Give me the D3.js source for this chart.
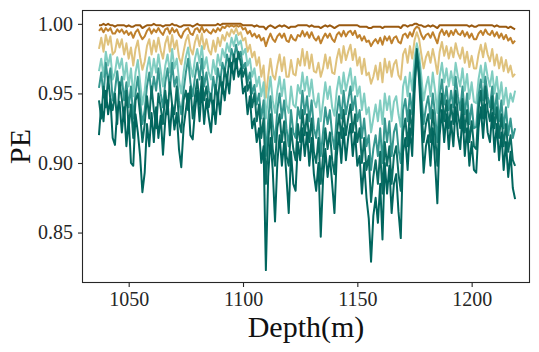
<!DOCTYPE html>
<html><head><meta charset="utf-8">
<script src="https://cdn.jsdelivr.net/npm/d3@7/dist/d3.min.js"></script>
<style>html,body{margin:0;padding:0;background:#fff;}svg{display:block;}</style>
</head><body>
<svg id="chart" width="539" height="352"></svg>
<script>
const depth = [1037,1038,1039,1040,1041,1042,1043,1044,1045,1046,1047,1048,1049,1050,1051,1052,1053,1054,1055,1056,1057,1058,1059,1060,1061,1062,1063,1064,1065,1066,1067,1068,1069,1070,1071,1072,1073,1074,1075,1076,1077,1078,1079,1080,1081,1082,1083,1084,1085,1086,1087,1088,1089,1090,1091,1092,1093,1094,1095,1096,1097,1098,1099,1100,1101,1102,1103,1104,1105,1106,1107,1108,1109,1110,1111,1112,1113,1114,1115,1116,1117,1118,1119,1120,1121,1122,1123,1124,1125,1126,1127,1128,1129,1130,1131,1132,1133,1134,1135,1136,1137,1138,1139,1140,1141,1142,1143,1144,1145,1146,1147,1148,1149,1150,1151,1152,1153,1154,1155,1156,1157,1158,1159,1160,1161,1162,1163,1164,1165,1166,1167,1168,1169,1170,1171,1172,1173,1174,1175,1176,1177,1178,1179,1180,1181,1182,1183,1184,1185,1186,1187,1188,1189,1190,1191,1192,1193,1194,1195,1196,1197,1198,1199,1200,1201,1202,1203,1204,1205,1206,1207,1208,1209,1210,1211,1212,1213,1214,1215,1216,1217,1218,1219];

const pe1 = [0.999,0.999,1.000,0.999,1.000,0.999,0.999,0.998,0.999,0.999,
0.999,0.999,0.998,0.999,0.998,0.998,0.999,0.999,0.999,0.997,
0.998,0.999,0.999,0.999,1.000,0.999,0.999,0.999,0.998,0.999,
0.999,0.999,1.000,0.999,0.999,0.998,0.998,0.999,0.999,0.999,
0.999,0.998,0.999,1.000,0.999,0.999,0.999,0.999,0.999,0.999,
0.999,0.999,1.000,0.999,1.000,1.000,1.000,1.000,1.000,1.000,
1.000,1.000,1.000,0.999,0.999,0.999,0.999,0.999,0.998,0.999,
0.998,0.998,0.998,0.996,0.998,0.999,0.998,0.997,0.998,0.999,
0.998,0.999,0.998,0.997,0.998,0.998,0.998,0.999,0.999,0.999,
0.999,0.999,0.998,0.999,0.998,0.998,0.998,0.997,0.998,0.999,
0.998,0.999,0.998,0.997,0.998,0.999,0.999,0.999,0.999,0.999,
0.999,0.999,0.999,0.999,0.998,0.998,0.998,0.998,0.997,0.997,
0.998,0.998,0.998,0.998,0.997,0.998,0.998,0.998,0.998,0.998,
0.998,0.998,0.997,0.999,0.999,0.998,0.999,0.999,1.000,1.000,
0.999,0.999,0.998,0.998,0.999,0.998,0.999,0.998,0.997,0.999,
0.999,0.999,0.999,0.999,0.999,0.999,0.999,0.999,0.999,0.999,
0.999,0.999,0.998,0.999,0.998,0.998,0.999,0.999,0.999,0.999,
0.999,0.999,0.999,0.998,0.999,0.998,0.998,0.998,0.998,0.997,
0.998,0.997,0.996];

const pe2 = [0.995,0.997,0.994,0.997,0.995,0.997,0.993,0.993,0.996,0.994,
0.996,0.993,0.995,0.992,0.994,0.990,0.994,0.996,0.992,0.989,
0.991,0.995,0.997,0.993,0.996,0.994,0.997,0.994,0.992,0.996,
0.997,0.993,0.997,0.994,0.996,0.992,0.990,0.994,0.996,0.997,
0.993,0.992,0.996,0.997,0.994,0.998,0.994,0.996,0.994,0.993,
0.996,0.994,0.997,0.995,0.998,0.997,0.999,0.998,0.999,0.998,
0.999,0.998,0.999,0.996,0.997,0.993,0.995,0.991,0.993,0.990,
0.992,0.988,0.990,0.984,0.989,0.993,0.989,0.987,0.991,0.993,
0.990,0.993,0.988,0.987,0.992,0.989,0.988,0.992,0.991,0.995,
0.991,0.994,0.990,0.994,0.990,0.988,0.991,0.986,0.990,0.993,
0.990,0.993,0.989,0.987,0.992,0.994,0.991,0.995,0.991,0.994,
0.995,0.992,0.995,0.990,0.992,0.988,0.991,0.987,0.988,0.984,
0.987,0.989,0.986,0.990,0.985,0.991,0.988,0.991,0.986,0.990,
0.991,0.987,0.986,0.992,0.993,0.990,0.994,0.991,0.996,0.998,
0.997,0.992,0.989,0.992,0.993,0.990,0.994,0.990,0.986,0.993,
0.996,0.992,0.995,0.991,0.995,0.992,0.996,0.993,0.992,0.995,
0.991,0.994,0.990,0.993,0.989,0.989,0.993,0.995,0.992,0.996,
0.993,0.992,0.995,0.991,0.994,0.990,0.993,0.989,0.992,0.988,
0.990,0.986,0.988];

const pe3 = [0.982,0.990,0.980,0.992,0.985,0.991,0.978,0.980,0.989,0.983,
0.989,0.978,0.986,0.975,0.983,0.970,0.982,0.988,0.976,0.967,
0.973,0.984,0.989,0.978,0.988,0.980,0.990,0.981,0.975,0.986,
0.991,0.980,0.992,0.982,0.988,0.976,0.971,0.980,0.988,0.992,
0.982,0.978,0.987,0.992,0.984,0.993,0.982,0.989,0.981,0.978,
0.988,0.980,0.990,0.984,0.992,0.988,0.994,0.991,0.996,0.993,
0.997,0.992,0.994,0.988,0.990,0.980,0.985,0.976,0.980,0.970,
0.976,0.962,0.970,0.947,0.962,0.975,0.963,0.960,0.970,0.978,
0.966,0.976,0.962,0.962,0.974,0.964,0.963,0.975,0.970,0.982,
0.970,0.980,0.968,0.978,0.966,0.965,0.972,0.962,0.968,0.978,
0.968,0.976,0.965,0.964,0.975,0.982,0.972,0.984,0.974,0.980,
0.985,0.974,0.982,0.970,0.976,0.964,0.975,0.963,0.965,0.957,
0.962,0.970,0.960,0.972,0.958,0.975,0.965,0.973,0.962,0.971,
0.974,0.963,0.960,0.978,0.982,0.972,0.984,0.975,0.988,0.994,
0.989,0.978,0.968,0.976,0.980,0.972,0.982,0.974,0.964,0.980,
0.987,0.977,0.984,0.975,0.983,0.976,0.986,0.979,0.975,0.983,
0.972,0.980,0.969,0.977,0.968,0.968,0.978,0.985,0.976,0.986,
0.978,0.973,0.982,0.970,0.978,0.968,0.976,0.966,0.974,0.965,
0.970,0.962,0.964];

const pe4 = [0.966,0.975,0.962,0.980,0.970,0.978,0.960,0.965,0.976,0.968,
0.975,0.960,0.972,0.955,0.968,0.948,0.965,0.974,0.958,0.942,
0.952,0.968,0.976,0.962,0.975,0.965,0.978,0.966,0.955,0.970,
0.978,0.965,0.982,0.968,0.975,0.960,0.950,0.965,0.976,0.983,
0.970,0.962,0.975,0.982,0.972,0.984,0.968,0.976,0.965,0.960,
0.974,0.964,0.978,0.970,0.982,0.976,0.986,0.980,0.990,0.984,
0.992,0.985,0.988,0.978,0.982,0.970,0.975,0.962,0.968,0.955,
0.962,0.948,0.958,0.932,0.948,0.962,0.945,0.936,0.952,0.962,
0.948,0.960,0.942,0.936,0.955,0.942,0.940,0.956,0.950,0.965,
0.952,0.962,0.948,0.960,0.945,0.940,0.950,0.930,0.944,0.958,
0.946,0.955,0.940,0.934,0.952,0.962,0.950,0.965,0.952,0.960,
0.968,0.952,0.962,0.948,0.955,0.938,0.950,0.935,0.940,0.922,
0.932,0.942,0.930,0.945,0.928,0.950,0.938,0.948,0.930,0.944,
0.948,0.935,0.926,0.955,0.962,0.948,0.965,0.952,0.975,0.986,
0.978,0.962,0.945,0.955,0.962,0.948,0.965,0.952,0.936,0.962,
0.972,0.958,0.968,0.955,0.966,0.956,0.972,0.962,0.955,0.968,
0.952,0.964,0.946,0.958,0.944,0.943,0.960,0.970,0.958,0.972,
0.962,0.955,0.966,0.950,0.962,0.946,0.958,0.942,0.954,0.940,
0.950,0.944,0.952];

const pe5 = [0.954,0.965,0.948,0.972,0.958,0.968,0.945,0.952,0.966,0.950,
0.962,0.945,0.958,0.940,0.955,0.932,0.950,0.962,0.945,0.928,
0.938,0.955,0.965,0.948,0.962,0.952,0.968,0.950,0.940,0.958,
0.968,0.952,0.972,0.955,0.962,0.945,0.935,0.952,0.965,0.975,
0.958,0.948,0.962,0.972,0.960,0.975,0.955,0.965,0.952,0.945,
0.962,0.950,0.968,0.958,0.972,0.965,0.978,0.970,0.982,0.975,
0.985,0.975,0.980,0.968,0.972,0.958,0.965,0.950,0.956,0.942,
0.950,0.932,0.945,0.905,0.930,0.948,0.928,0.915,0.938,0.950,
0.932,0.945,0.925,0.912,0.938,0.922,0.918,0.940,0.932,0.952,
0.935,0.948,0.930,0.945,0.925,0.918,0.932,0.905,0.922,0.940,
0.928,0.938,0.920,0.910,0.935,0.948,0.932,0.952,0.935,0.945,
0.955,0.938,0.948,0.930,0.938,0.918,0.932,0.912,0.920,0.895,
0.910,0.920,0.905,0.925,0.900,0.932,0.915,0.930,0.905,0.922,
0.928,0.910,0.900,0.938,0.946,0.930,0.950,0.935,0.965,0.980,
0.972,0.950,0.928,0.940,0.948,0.932,0.950,0.935,0.915,0.948,
0.960,0.942,0.955,0.938,0.952,0.940,0.962,0.948,0.938,0.955,
0.935,0.950,0.928,0.942,0.925,0.926,0.948,0.960,0.945,0.962,
0.948,0.940,0.955,0.935,0.950,0.930,0.945,0.925,0.940,0.920,
0.932,0.918,0.925];

const pe6 = [0.945,0.932,0.955,0.940,0.962,0.945,0.938,0.950,0.928,0.958,
0.946,0.930,0.952,0.925,0.942,0.918,0.945,0.950,0.935,0.915,
0.928,0.948,0.932,0.955,0.938,0.925,0.950,0.940,0.928,0.952,
0.935,0.958,0.942,0.935,0.955,0.930,0.922,0.945,0.952,0.938,
0.955,0.932,0.948,0.960,0.942,0.962,0.945,0.955,0.940,0.950,
0.935,0.956,0.945,0.962,0.950,0.968,0.958,0.975,0.965,0.978,
0.968,0.980,0.972,0.962,0.968,0.952,0.958,0.940,0.950,0.930,
0.942,0.918,0.932,0.885,0.915,0.935,0.910,0.898,0.925,0.935,
0.915,0.930,0.905,0.898,0.925,0.910,0.902,0.928,0.915,0.938,
0.920,0.935,0.915,0.932,0.908,0.900,0.918,0.885,0.905,0.925,
0.910,0.922,0.902,0.892,0.920,0.935,0.918,0.938,0.920,0.932,
0.942,0.922,0.935,0.915,0.925,0.900,0.918,0.895,0.905,0.872,
0.890,0.902,0.885,0.908,0.878,0.915,0.898,0.912,0.885,0.905,
0.912,0.892,0.880,0.922,0.932,0.912,0.938,0.920,0.958,0.975,
0.965,0.940,0.915,0.928,0.935,0.915,0.938,0.920,0.898,0.935,
0.950,0.930,0.945,0.925,0.942,0.928,0.952,0.935,0.925,0.946,
0.922,0.938,0.915,0.930,0.912,0.910,0.938,0.952,0.932,0.955,
0.938,0.930,0.948,0.925,0.940,0.918,0.935,0.912,0.928,0.908,
0.920,0.902,0.898];

const pe7 = [0.920,0.942,0.930,0.952,0.935,0.946,0.918,0.913,0.938,0.944,
0.922,0.940,0.912,0.932,0.900,0.898,0.935,0.922,0.905,0.879,
0.893,0.928,0.912,0.936,0.915,0.940,0.918,0.934,0.906,0.931,
0.945,0.920,0.942,0.924,0.936,0.910,0.897,0.925,0.938,0.950,
0.920,0.917,0.938,0.952,0.930,0.955,0.928,0.946,0.933,0.922,
0.945,0.928,0.950,0.935,0.958,0.945,0.962,0.950,0.972,0.960,
0.975,0.962,0.968,0.950,0.955,0.935,0.948,0.925,0.932,0.915,
0.925,0.900,0.912,0.823,0.890,0.918,0.895,0.858,0.900,0.920,
0.898,0.915,0.890,0.864,0.908,0.885,0.880,0.915,0.902,0.925,
0.905,0.922,0.898,0.918,0.892,0.880,0.900,0.847,0.888,0.910,
0.890,0.905,0.885,0.864,0.905,0.922,0.900,0.925,0.902,0.918,
0.928,0.905,0.922,0.898,0.905,0.878,0.900,0.875,0.860,0.829,
0.862,0.875,0.857,0.885,0.845,0.900,0.878,0.898,0.864,0.885,
0.892,0.865,0.846,0.908,0.918,0.895,0.925,0.905,0.950,0.982,
0.960,0.930,0.893,0.912,0.920,0.898,0.925,0.900,0.871,0.920,
0.938,0.915,0.935,0.910,0.930,0.912,0.940,0.920,0.910,0.935,
0.905,0.925,0.898,0.915,0.895,0.893,0.925,0.940,0.918,0.942,
0.922,0.915,0.936,0.908,0.928,0.902,0.922,0.895,0.915,0.890,
0.908,0.882,0.874];

const seriesList = [pe1, pe2, pe3, pe4, pe5, pe6, pe7];
const seriesColors = ["#9a5a10", "#bf812d", "#dfc27d", "#80cdc1", "#35978f", "#0b6e64", "#01665e"];
const xTicks = [1050, 1100, 1150, 1200];
const yTicks = [0.85, 0.90, 0.95, 1.00];

const svg = d3.select("#chart");
const L = 82.5, R = 529.5, T = 10.5, B = 282.5;

const x = d3.scaleLinear().domain([1029.8, 1225.3]).range([L, R]);
const y = d3.scaleLinear().domain([0.8141, 1.0096]).range([B, T]);

const serif = "'Liberation Serif', 'DejaVu Serif', serif";

const g = svg.append("g");
const line = d3.line().x((d, i) => x(depth[i])).y(d => y(d));
seriesList.forEach((s, k) => {
  g.append("path").datum(s)
    .attr("d", line)
    .attr("fill", "none")
    .attr("stroke", seriesColors[k])
    .attr("stroke-width", 2)
    .attr("stroke-linejoin", "round");
});

svg.append("rect").attr("x", L).attr("y", T).attr("width", R - L).attr("height", B - T)
  .attr("fill", "none").attr("stroke", "#262626").attr("stroke-width", 1.1);

const xAxis = d3.axisBottom(x).tickValues(xTicks).tickSize(4.5).tickPadding(5).tickFormat(d3.format("d"));
const gx = svg.append("g").attr("transform", `translate(0,${B})`).call(xAxis);
gx.select(".domain").remove();
gx.selectAll("line").attr("stroke", "#262626").attr("stroke-width", 1.1);
gx.selectAll("text").attr("font-family", serif).attr("font-size", 20).attr("fill", "#262626");

const yAxis = d3.axisLeft(y).tickValues(yTicks).tickSize(4.5).tickPadding(5).tickFormat(d3.format(".2f"));
const gy = svg.append("g").attr("transform", `translate(${L},0)`).call(yAxis);
gy.select(".domain").remove();
gy.selectAll("line").attr("stroke", "#262626").attr("stroke-width", 1.1);
gy.selectAll("text").attr("font-family", serif).attr("font-size", 20).attr("fill", "#262626");

svg.append("text").attr("x", (L + R) / 2).attr("y", 337)
  .attr("text-anchor", "middle").attr("font-family", serif).attr("font-size", 30)
  .attr("fill", "#111").text("Depth(m)");

svg.append("text").attr("transform", `translate(30,${(T + B) / 2}) rotate(-90)`)
  .attr("text-anchor", "middle").attr("font-family", serif).attr("font-size", 30)
  .attr("fill", "#111").text("PE");
</script>
</body></html>
